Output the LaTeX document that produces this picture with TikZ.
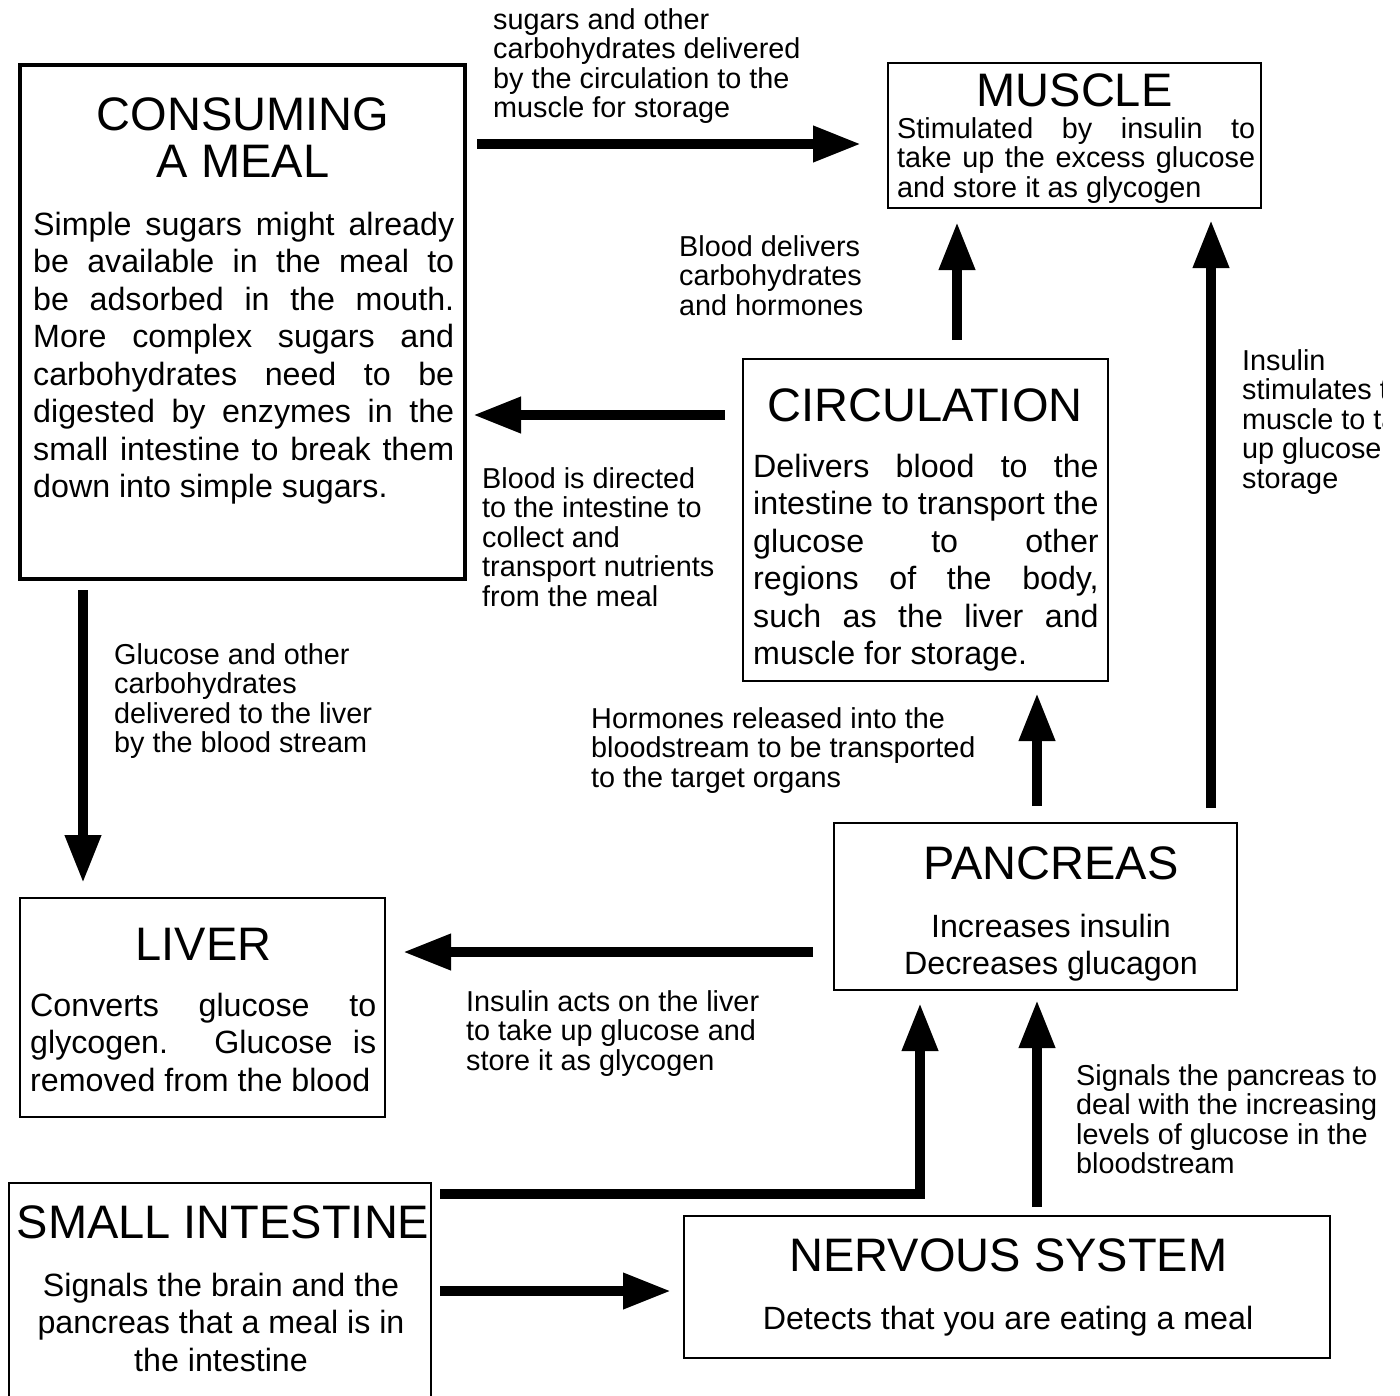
\documentclass[tikz,border=0pt]{standalone}
\usepackage{fontspec}
\setmainfont{Liberation Sans}
\usetikzlibrary{arrows.meta}
\newdimen\linew
\newcommand\Jl[1]{\hbox to\linew{#1}}
\newcommand\Lft[1]{\hbox{#1}}
\newcommand\Ctr[1]{\hbox to\linew{\hfil#1\hfil}}
\newcommand\tsz{\fontsize{47}{47}\selectfont}
\newcommand\bsz{\fontsize{32.2}{37.5}\selectfont}
\newcommand\lsz{\fontsize{28.8}{29.6}\selectfont}
\lineskiplimit=-100pt
\tikzset{
  box/.style={draw, line width=2pt, rectangle, inner sep=0pt, minimum width=#1},
  thickbox/.style={draw, line width=4.5pt, rectangle, inner sep=0pt},
  ttl/.style={inner sep=0pt, anchor=base, font=\tsz},
  bodyt/.style={inner sep=0pt, font=\bsz},
  lbl/.style={inner sep=0pt, anchor=base west, font=\lsz},
  flow/.style={line width=10pt, -{Triangle[length=48pt,width=34pt]}, line join=miter}
}
\begin{document}
\begin{tikzpicture}[x=1pt,y=-1pt]
\useasboundingbox (0,0) rectangle (1400,1395);
\fill[white] (0,0) rectangle (1400,1395);
\begin{scope}
\clip (0,0) rectangle (1382,1395);

% ---------- boxes ----------
\node[thickbox, minimum width=445pt, minimum height=514pt] (meal) at (242.5,322) {};
\node[box=373pt, minimum height=145pt] (muscle) at (1074.5,135.5) {};
\node[box=365pt, minimum height=322pt] (circ) at (925.5,520) {};
\node[box=365pt, minimum height=219pt] (liver) at (202.5,1007.5) {};
\node[box=403pt, minimum height=167pt] (pancreas) at (1035.5,906.5) {};
\node[box=422pt, minimum height=217pt] (intestine) at (220,1291.5) {};
\node[box=645.5pt, minimum height=142pt] (nervous) at (1007,1287) {};

% ---------- titles ----------
\node[ttl] (mealT) at (243,130) {\vtop{\Lft{\hbox to 0pt{\hss CONSUMING\hss}}\Lft{\hbox to 0pt{\hss A MEAL\hss}}}};
\node[ttl] (muscleT) at (1074.5,106.5) {MUSCLE};
\node[ttl] (circT) at (925,421) {CIRCULATION};
\node[ttl] (liverT) at (203.5,960) {LIVER};
\node[ttl] (pancT) at (1051,879) {PANCREAS};
\node[ttl] (intT) at (223,1238) {SMALL INTESTINE};
\node[ttl] (nervT) at (1008.5,1271) {NERVOUS SYSTEM};

% ---------- box texts ----------
\node[bodyt, anchor=base west] (mealB) at (33,235) {\linew=421pt\vtop{%
\Jl{Simple sugars might already}
\Jl{be available in the meal to}
\Jl{be adsorbed in the mouth.}
\Jl{More complex sugars and}
\Jl{carbohydrates need to be}
\Jl{digested by enzymes in the}
\Jl{small intestine to break them}
\Lft{down into simple sugars.}}};

\node[lbl, anchor=base west] (muscleB) at (897,138) {\linew=358pt\vtop{%
\Jl{Stimulated by insulin to}
\Jl{take up the excess glucose}
\Lft{and store it as glycogen}}};

\node[bodyt, anchor=base west] (circB) at (753,477) {\linew=345.5pt\vtop{%
\Jl{Delivers blood to the}
\Jl{intestine to transport the}
\Jl{glucose to other}
\Jl{regions of the body,}
\Jl{such as the liver and}
\Lft{muscle for storage.}}};

\node[bodyt, anchor=base west] (liverB) at (30,1016) {\linew=346pt\vtop{%
\Jl{Converts glucose to}
\Jl{glycogen.  Glucose is}
\Lft{removed from the blood}}};

\node[bodyt, anchor=base] (pancB) at (1051,937) {\linew=320pt\vtop{%
\Ctr{Increases insulin}
\Ctr{Decreases glucagon}}};

\node[bodyt, anchor=base] (intB) at (221,1296) {\linew=400pt\vtop{%
\Ctr{Signals the brain and the}
\Ctr{pancreas that a meal is in}
\Ctr{the intestine}}};

\node[bodyt, anchor=base] (nervB) at (1008,1329) {Detects that you are eating a meal};

% ---------- labels ----------
\node[lbl] (l1) at (493,29) {\vtop{\Lft{sugars and other}\Lft{carbohydrates delivered}\Lft{by the circulation to the}\Lft{muscle for storage}}};
\node[lbl] (l2) at (679,256) {\vtop{\Lft{Blood delivers}\Lft{carbohydrates}\Lft{and hormones}}};
\node[lbl] (l3) at (1242,370) {\vtop{\Lft{Insulin}\Lft{stimulates the}\Lft{muscle to take}\Lft{up glucose for}\Lft{storage}}};
\node[lbl] (l4) at (482,488) {\vtop{\Lft{Blood is directed}\Lft{to the intestine to}\Lft{collect and}\Lft{transport nutrients}\Lft{from the meal}}};
\node[lbl] (l5) at (114,664) {\vtop{\Lft{Glucose and other}\Lft{carbohydrates}\Lft{delivered to the liver}\Lft{by the blood stream}}};
\node[lbl] (l6) at (591,728) {\vtop{\Lft{Hormones released into the}\Lft{bloodstream to be transported}\Lft{to the target organs}}};
\node[lbl] (l7) at (466,1011) {\vtop{\Lft{Insulin acts on the liver}\Lft{to take up glucose and}\Lft{store it as glycogen}}};
\node[lbl] (l8) at (1076,1085) {\vtop{\Lft{Signals the pancreas to}\Lft{deal with the increasing}\Lft{levels of glucose in the}\Lft{bloodstream}}};

% ---------- arrow end points ----------
\coordinate (a1s) at (477,144);  \coordinate (a1e) at (861,144);
\coordinate (a2s) at (725,415);  \coordinate (a2e) at (473,415);
\coordinate (a3s) at (957,340);  \coordinate (a3e) at (957,222);
\coordinate (a4s) at (1211,808); \coordinate (a4e) at (1211,220);
\coordinate (a5s) at (83,590);   \coordinate (a5e) at (83,883);
\coordinate (a6s) at (1037,806); \coordinate (a6e) at (1037,693);
\coordinate (a7s) at (813,952);  \coordinate (a7e) at (403,952);
\coordinate (a8s) at (440,1194); \coordinate (a8m) at (920,1194); \coordinate (a8e) at (920,1003);
\coordinate (a9s) at (1037,1207); \coordinate (a9e) at (1037,1000);
\coordinate (a10s) at (440,1291); \coordinate (a10e) at (671,1291);

\draw[flow] (a1s) -- (a1e);
\draw[flow] (a2s) -- (a2e);
\draw[flow] (a3s) -- (a3e);
\draw[flow] (a4s) -- (a4e);
\draw[flow] (a5s) -- (a5e);
\draw[flow] (a6s) -- (a6e);
\draw[flow] (a7s) -- (a7e);
\draw[flow] (a8s) -- (a8m) -- (a8e);
\draw[flow] (a9s) -- (a9e);
\draw[flow] (a10s) -- (a10e);
\end{scope}
\end{tikzpicture}
\end{document}
